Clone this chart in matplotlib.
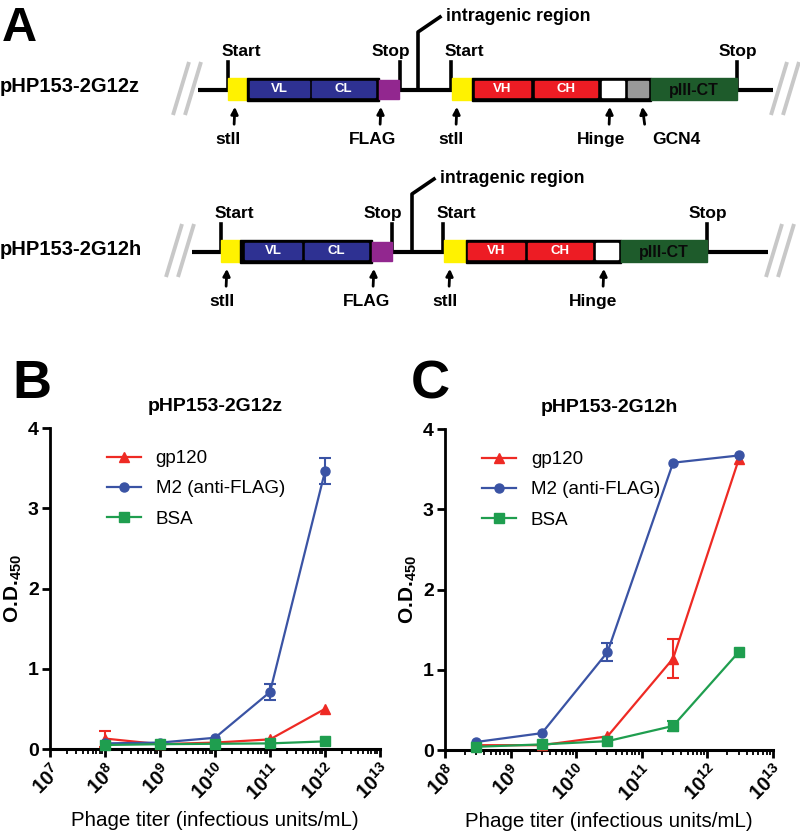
import math

import matplotlib
matplotlib.use('Agg')
import matplotlib.pyplot as plt
from matplotlib.patches import Rectangle
from matplotlib.ticker import LogLocator, NullFormatter, FixedLocator

plt.rcParams['font.family'] = ['Liberation Sans', 'DejaVu Sans']
plt.rcParams['mathtext.fontset'] = 'custom'
plt.rcParams['mathtext.rm'] = 'Liberation Sans'
plt.rcParams['mathtext.bf'] = 'Liberation Sans:bold'

# ELISA data, panel B (pHP153-2G12z)
b_titer = [1e8, 1e9, 1e10, 1e11, 1e12]
b_gp120 = [0.13, 0.06, 0.08, 0.12, 0.50]
b_gp120_err = [0.10, 0, 0, 0, 0]
b_m2 = [0.07, 0.08, 0.14, 0.71, 3.46]
b_m2_err = [0, 0, 0, 0.10, 0.16]
b_bsa = [0.05, 0.06, 0.065, 0.07, 0.095]
b_bsa_err = [0, 0, 0, 0, 0]

# ELISA data, panel C (pHP153-2G12h)
c_titer = [3e8, 3e9, 3e10, 3e11, 3e12]
c_gp120 = [0.06, 0.06, 0.17, 1.14, 3.62]
c_gp120_err = [0, 0, 0, 0.24, 0]
c_m2 = [0.10, 0.21, 1.22, 3.58, 3.67]
c_m2_err = [0, 0, 0.11, 0, 0]
c_bsa = [0.04, 0.07, 0.11, 0.30, 1.22]
c_bsa_err = [0, 0, 0, 0.06, 0]

series_names = ['gp120', 'M2 (anti-FLAG)', 'BSA']
series_colors = ['#ee2a24', '#3a53a4', '#1f9e4f']
series_markers = ['^', 'o', 's']

# construct maps (schematic, in figure pixels)
constructs = [
    dict(name='pHP153-2G12z', y=90, slash=(187, 785), line=(198, 773),
         starts=[228, 451], stops=[400, 737], intragenic=418,
         light=(228, 247, 379, 399), light_parts=[('VL', 250, 309), ('CL', 312, 375)],
         heavy=(452, 472, 651, 737),
         heavy_parts=[('VH', 475, 530, '#ed1c24'), ('CH', 535, 597, '#ed1c24'),
                      ('', 602, 624, 'white'), ('', 628, 648, '#999999')],
         pointers=[('stII', 235, 228), ('FLAG', 381, 373), ('stII', 457, 451),
                   ('Hinge', 610, 601), ('GCN4', 642, 676)]),
    dict(name='pHP153-2G12h', y=252, slash=(180, 780), line=(192, 768),
         starts=[221, 443], stops=[392, 707], intragenic=412,
         light=(221, 240, 372, 392), light_parts=[('VL', 245, 301), ('CL', 305, 368)],
         heavy=(444, 466, 621, 707),
         heavy_parts=[('VH', 468, 524, '#ed1c24'), ('CH', 528, 592, '#ed1c24'),
                      ('', 596, 618, 'white')],
         pointers=[('stII', 227, 222), ('FLAG', 374, 367), ('stII', 450, 445),
                   ('Hinge', 604, 593)]),
]

fig = plt.figure(figsize=(8, 8.38), dpi=100)

# ---- panel A: schematic drawn in pixel coordinates
ax_a = fig.add_axes([0, 0, 1, 1])
ax_a.set_xlim(0, 800)
ax_a.set_ylim(838, 0)
ax_a.axis('off')

ax_a.text(2, 41, 'A', fontsize=35, fontweight='bold', ha='left', va='baseline')
ax_a.text(12, 398, 'B', fontsize=39, fontweight='bold', ha='left', va='baseline')
ax_a.text(411, 398, 'C', fontsize=39, fontweight='bold', ha='left', va='baseline')

for c in constructs:
    y = c['y']
    ax_a.text(0, y - 3, c['name'], fontsize=14.5, fontweight='bold', ha='left', va='center')
    for sx in c['slash']:
        for dx in (-6, 6):
            ax_a.plot([sx + dx - 8, sx + dx + 8], [y + 25, y - 28], color='#c8c8c8', lw=2.8,
                      solid_capstyle='butt')
    ax_a.plot(c['line'], [y, y], color='black', lw=3, solid_capstyle='butt', zorder=1)
    # start / stop markers
    for sx in c['starts']:
        ax_a.plot([sx, sx], [y, y - 28], color='black', lw=2.6, zorder=1)
        ax_a.text(sx + 13, y - 34, 'Start', fontsize=12.5, fontweight='bold', ha='center', va='baseline')
    for i, sx in enumerate(c['stops']):
        ax_a.plot([sx, sx], [y, y - 28], color='black', lw=2.6, zorder=1)
        ax_a.text(sx + (-9 if i == 0 else 1), y - 34, 'Stop', fontsize=12.5, fontweight='bold',
                  ha='center', va='baseline')
    ix = c['intragenic']
    ax_a.plot([ix, ix, ix + 22], [y, y - 58, y - 73], color='black', lw=2.6, zorder=1)
    ax_a.text(ix + 28, y - 69, 'intragenic region', fontsize=12.8, fontweight='bold',
              ha='left', va='baseline')
    # light chain cassette
    x0, x1, x2, x3 = c['light']
    ax_a.add_patch(Rectangle((x0, y - 12), x1 - x0, 22, color='#fff200', zorder=2))
    ax_a.add_patch(Rectangle((x1, y - 12), x2 - x1, 23, color='black', zorder=2))
    for lab, p0, p1 in c['light_parts']:
        ax_a.add_patch(Rectangle((p0, y - 9), p1 - p0, 16, color='#2e3192', zorder=3))
        ax_a.text((p0 + p1) / 2, y - 1, lab, color='white', fontsize=9.5, fontweight='bold',
                  ha='center', va='center', zorder=4)
    ax_a.add_patch(Rectangle((x2, y - 10), x3 - x2, 19, color='#92278f', zorder=2))
    # heavy chain cassette
    h0, h1, h2, h3 = c['heavy']
    ax_a.add_patch(Rectangle((h0, y - 12), h1 - h0, 22, color='#fff200', zorder=2))
    ax_a.add_patch(Rectangle((h1, y - 12), h2 - h1, 23, color='black', zorder=2))
    for lab, p0, p1, col in c['heavy_parts']:
        ax_a.add_patch(Rectangle((p0, y - 9), p1 - p0, 16, color=col, zorder=3))
        if lab:
            ax_a.text((p0 + p1) / 2, y - 1, lab, color='white', fontsize=9.5, fontweight='bold',
                      ha='center', va='center', zorder=4)
    ax_a.add_patch(Rectangle((h2, y - 12), h3 - h2, 22, color='#1e5b2b', zorder=2))
    ax_a.text((h2 + h3) / 2, y, 'pIII-CT', color='#0a0a0a', fontsize=11.5, fontweight='bold',
              ha='center', va='center', zorder=4)
    # pointer arrows
    for lab, ax_x, tx in c['pointers']:
        tilt = 3 if lab == 'GCN4' else -1
        ax_a.annotate('', xy=(ax_x, y + 14), xytext=(ax_x + tilt, y + 37),
                      arrowprops=dict(arrowstyle='-|>', color='black', lw=2, mutation_scale=10))
        ax_a.text(tx, y + 54, lab, fontsize=12.5, fontweight='bold', ha='center', va='baseline')


def elisa_panel(rect, titer, values, errors, xlim, title, legend_x):
    ax = fig.add_axes(rect)
    for vals, errs, name, col, mk in zip(values, errors, series_names, series_colors, series_markers):
        ax.plot(titer, vals, color=col, marker=mk, markersize=6.5, lw=1.6, label=name,
                clip_on=False, zorder=4)
        ex = [t for t, e in zip(titer, errs) if e > 0]
        ey = [v for v, e in zip(vals, errs) if e > 0]
        ee = [e for e in errs if e > 0]
        if ex:
            ax.errorbar(ex, ey, yerr=ee, fmt='none', ecolor=col, capsize=4.5, capthick=1.5,
                        elinewidth=1.5, clip_on=False, zorder=3)
    ax.set_xscale('log')
    ax.set_xlim(*xlim)
    ax.set_ylim(0, 4)
    ax.set_yticks([0, 1, 2, 3, 4])
    ax.set_yticklabels(['0', '1', '2', '3', '4'], fontweight='bold', fontsize=14)
    decades = list(range(round(math.log10(xlim[0])), round(math.log10(xlim[1])) + 1))
    ax.xaxis.set_major_locator(FixedLocator([10.0 ** d for d in decades]))
    ax.set_xticklabels([r'$\mathbf{10^{%d}}$' % d for d in decades], fontsize=14.5,
                       rotation=45, ha='right', va='top', rotation_mode='anchor')
    ax.xaxis.set_minor_locator(LogLocator(base=10, subs=range(2, 10), numticks=20))
    ax.xaxis.set_minor_formatter(NullFormatter())
    for s in ('top', 'right'):
        ax.spines[s].set_visible(False)
    ax.spines['left'].set_linewidth(2)
    ax.spines['bottom'].set_linewidth(2.2)
    ax.tick_params(axis='both', which='major', length=6, width=2, direction='out', pad=2)
    ax.tick_params(axis='x', which='minor', length=3.5, width=1.3, direction='out')
    ax.set_title(title, fontsize=14, fontweight='bold', pad=12)
    ax.set_ylabel(r'O.D.$_{\mathbf{450}}$', fontsize=15, fontweight='bold', labelpad=3)
    ax.set_xlabel('Phage titer (infectious units/mL)', fontsize=14.8, labelpad=5)
    ax.legend(loc='upper left', bbox_to_anchor=(legend_x, 0.955), frameon=False, fontsize=13.5,
              handlelength=1.8, labelspacing=0.7, borderaxespad=0)
    return ax


elisa_panel([50 / 800, (838 - 749) / 838, 330 / 800, 321 / 838], b_titer,
            [b_gp120, b_m2, b_bsa], [b_gp120_err, b_m2_err, b_bsa_err],
            (1e7, 1e13), 'pHP153-2G12z', 0.15)
elisa_panel([445 / 800, (838 - 750) / 838, 328 / 800, 321 / 838], c_titer,
            [c_gp120, c_m2, c_bsa], [c_gp120_err, c_m2_err, c_bsa_err],
            (1e8, 1e13), 'pHP153-2G12h', 0.09)

fig.savefig('out.png', dpi=100)
